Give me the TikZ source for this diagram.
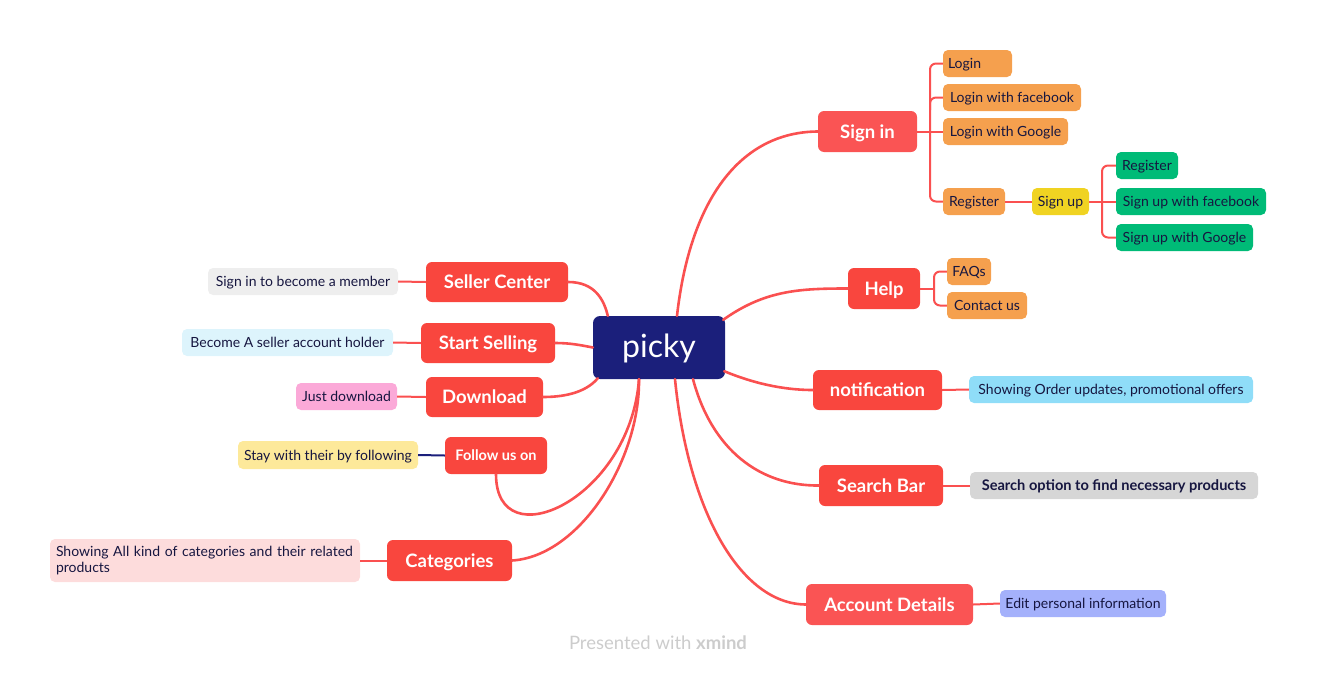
\documentclass[tikz,border=0pt]{standalone}
\usepackage{fontspec}
\setmainfont{Lato}
\usetikzlibrary{calc}
\definecolor{navy}{HTML}{1B1F7B}
\definecolor{redA}{HTML}{F9463E}
\definecolor{redB}{HTML}{FA5454}
\definecolor{linec}{HTML}{FA5050}
\definecolor{orangec}{HTML}{F5A04E}
\definecolor{yellowc}{HTML}{F0D322}
\definecolor{greenc}{HTML}{00BB77}
\definecolor{skyc}{HTML}{8FDDF8}
\definecolor{grayc}{HTML}{D6D6D6}
\definecolor{lavc}{HTML}{A4B1FB}
\definecolor{lgrayc}{HTML}{EEEEEE}
\definecolor{paleblue}{HTML}{DDF4FC}
\definecolor{pinkc}{HTML}{FBA9D8}
\definecolor{paleyel}{HTML}{FDE99A}
\definecolor{palepink}{HTML}{FDDCDC}
\definecolor{darktext}{HTML}{161640}
\definecolor{footc}{HTML}{CCCCCC}
\tikzset{
  maintopic/.style={draw=none, fill=redA, rounded corners=6pt, inner sep=0pt, text=white,
     font=\fontsize{18.5}{21}\selectfont\bfseries, minimum height=41pt, text height=13.3pt, text depth=0pt},
  subbase/.style={draw=none, rounded corners=5pt, inner sep=0pt, text=darktext,
     font=\fontsize{14}{16}\selectfont, minimum height=27pt},
  subtopic/.style={subbase, text height=10.1pt, text depth=0pt},
  conn/.style={draw=linec, line width=2.6pt, line cap=round},
  subconn/.style={draw=linec, line width=2pt, rounded corners=6pt},
}
\begin{document}
\begin{tikzpicture}[x=1pt,y=-1pt]
\useasboundingbox (0,0) rectangle (1317,675);

% central
\node[fill=navy, rounded corners=7pt, text=white, minimum width=132pt, minimum height=63pt,
      font=\fontsize{32}{36}\selectfont, inner sep=0pt, text height=19pt, text depth=0pt] (picky) at (659,347.5) {picky};

% right main topics
\node[maintopic, fill=redB, minimum width=99pt] (signin) at (867.5,131.5) {Sign in};
\node[maintopic, minimum width=72pt] (help) at (884,288.5) {Help};
\node[maintopic, minimum width=129pt, minimum height=40pt] (notif) at (877.5,390) {notification};
\node[maintopic, minimum width=124pt] (search) at (881,485.5) {Search Bar};
\node[maintopic, fill=redB, minimum width=167pt] (account) at (889.5,604.5) {Account Details};

% left main topics
\node[maintopic, minimum width=142pt, minimum height=40pt] (seller) at (497,282) {Seller Center};
\node[maintopic, minimum width=134pt, minimum height=40pt] (start) at (488,343) {Start Selling};
\node[maintopic, minimum width=117pt, minimum height=40pt] (download) at (484.5,397) {Download};
\node[maintopic, minimum width=102pt, minimum height=37pt, font=\fontsize{14.5}{17}\selectfont\bfseries, text height=10.4pt] (follow) at (496,455.5) {Follow us on};
\node[maintopic, minimum width=125pt] (categ) at (449.5,560.5) {Categories};

% sign in subtopics
\node[subtopic, fill=orangec, minimum width=69pt, text width=59pt, align=left] (login) at (977.5,63.5) {Login};
\node[subtopic, fill=orangec, minimum width=138pt] (loginfb) at (1012,97.5) {Login with facebook};
\node[subtopic, fill=orangec, minimum width=125pt] (logingo) at (1005.5,131.5) {Login with Google};
\node[subtopic, fill=orangec, minimum width=62pt] (register) at (974,201.5) {Register};
\node[subtopic, fill=yellowc, minimum width=57pt] (signup) at (1060.5,201.5) {Sign up};
\node[subtopic, fill=greenc, minimum width=62pt] (regg) at (1147,165.5) {Register};
\node[subtopic, fill=greenc, minimum width=150pt] (signupfb) at (1191,201.5) {Sign up with facebook};
\node[subtopic, fill=greenc, minimum width=137pt] (signupgo) at (1184.5,237.5) {Sign up with Google};

% help subtopics
\node[subtopic, fill=orangec, minimum width=44pt] (faqs) at (969,271.5) {FAQs};
\node[subtopic, fill=orangec, minimum width=80pt] (contact) at (987,305.5) {Contact us};

% right notes
\node[subtopic, fill=skyc, minimum width=284pt] (notifn) at (1111,389.5) {Showing Order updates, promotional offers};
\node[subtopic, fill=grayc, minimum width=288pt, font=\fontsize{14.6}{16}\selectfont\bfseries, text height=10.5pt] (searchn) at (1114,485.5) {Search option to find necessary products};
\node[subtopic, fill=lavc, minimum width=166pt] (accountn) at (1083,603.5) {Edit personal information};

% left notes
\node[subtopic, fill=lgrayc, minimum width=190pt] (sellern) at (303,281.5) {Sign in to become a member};
\node[subtopic, fill=paleblue, minimum width=211pt] (startn) at (287.5,342.5) {Become A seller account holder};
\node[subtopic, fill=pinkc, minimum width=101pt] (downn) at (346.5,396.5) {Just download};
\node[subtopic, fill=paleyel, minimum width=180pt, minimum height=28pt] (follown) at (328,455) {Stay with their by following};
\node[subbase, fill=palepink, minimum width=310pt, minimum height=43pt, text width=298pt, align=left,
      font=\fontsize{14}{16.5}\selectfont] (categn) at (205,560.5) {Showing All kind of categories and their related products};

% footer
\node[text=footc, font=\fontsize{18.5}{20}\selectfont, inner sep=0pt] (foot) at (658,643) {Presented with \textbf{xmind}};

% ---- connectors from the centre
\draw[conn] ($(picky.north)+(18,0)$) .. controls (690,200) and (740,132) .. (signin.west);
\draw[conn] ($(picky.north east)+(-2,4)$) .. controls (765,290) and (800,288.5) .. (help.west);
\draw[conn] ($(picky.south east)+(-1,-8)$) .. controls (760,386) and (790,390) .. (notif.west);
\draw[conn] ($(picky.south)+(34,0)$) .. controls (712,450) and (760,486) .. (search.west);
\draw[conn] ($(picky.south)+(16,0)$) .. controls (688,510) and (740,604) .. (account.west);
\draw[conn] (seller.east) .. controls (595,282) and (604,300) .. ($(picky.north west)+(15,0)$);
\draw[conn] (start.east) .. controls (570,343) and (580,345) .. (picky.west);
\draw[conn] (download.east) .. controls (570,397) and (588,390) .. ($(picky.south west)+(5,-1)$);
\draw[conn] (follow.south) .. controls (496,560) and (630,500) .. ($(picky.south)+(-20,0)$);
\draw[conn] (categ.east) .. controls (580,556) and (640,460) .. ($(picky.south)+(-20,0)$);

% ---- sign in branch
\coordinate (sitrunk) at (930,131.5);
\draw[subconn] (signin.east) -- (sitrunk);
\draw[subconn] (login.west) -- (930,63.5) -- (930,201.5) -- (register.west);
\draw[subconn] (loginfb.west) -- (930,97.5) -- (930,110);
\draw[subconn] (sitrunk) -- (logingo.west);
\draw[subconn] (register.east) -- (signup.west);
\coordinate (sutrunk) at (1102,201.5);
\draw[subconn] (signup.east) -- (sutrunk) -- (signupfb.west);
\draw[subconn] (regg.west) -- (1102,165.5) -- (1102,237.5) -- (signupgo.west);

% ---- help branch
\coordinate (htrunk) at (934,288.5);
\draw[subconn] (help.east) -- (htrunk);
\draw[subconn] (faqs.west) -- (934,271.5) -- (934,305.5) -- (contact.west);

% ---- notes
\draw[subconn] (notif.east) -- (notifn.west);
\draw[subconn] (search.east) -- (searchn.west);
\draw[subconn] (account.east) -- (accountn.west);
\draw[subconn] (seller.west) -- (sellern.east);
\draw[subconn] (start.west) -- (startn.east);
\draw[subconn] (download.west) -- (downn.east);
\draw[draw=navy, line width=2pt] (follow.west) -- (follown.east);
\draw[subconn] (categ.west) -- (categn.east);

\end{tikzpicture}
\end{document}
